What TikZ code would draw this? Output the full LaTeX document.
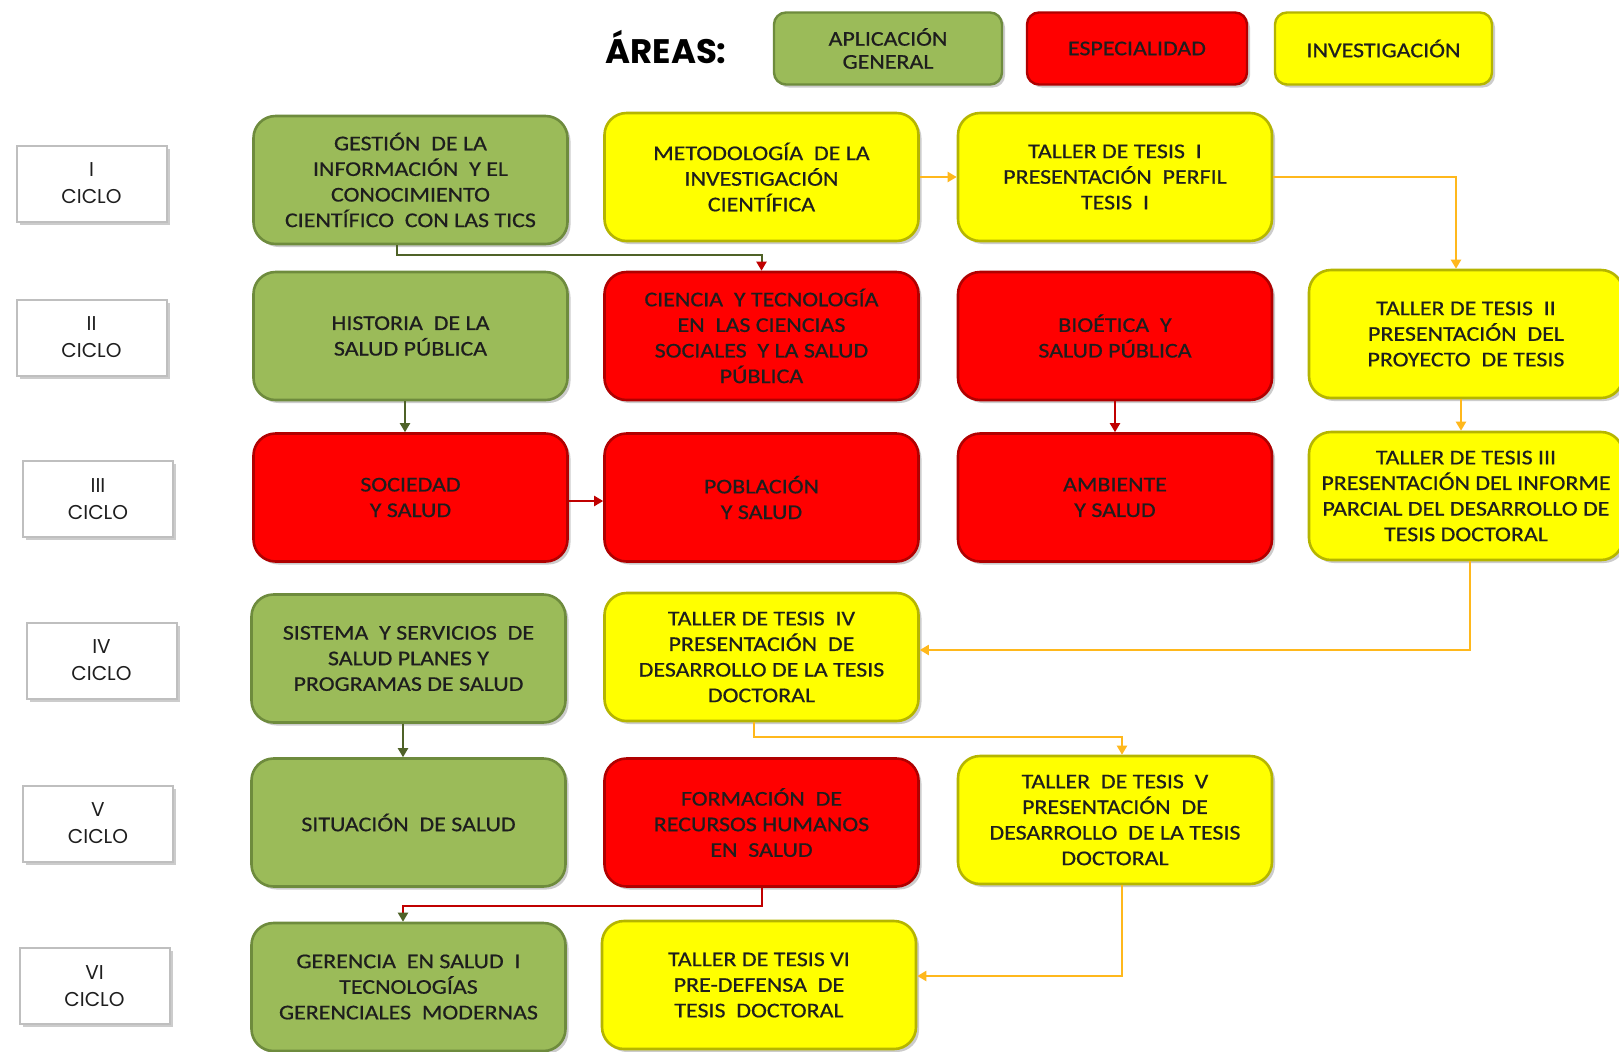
\documentclass[tikz,border=0pt]{standalone}
\usepackage{fontspec}
\setmainfont{Carlito}[FakeStretch=1.14, FakeBold=0.6]
\newfontfamily\geofont{Poppins}
\usetikzlibrary{shadows,arrows.meta}

\definecolor{agreen}{HTML}{9BBB59}
\definecolor{agreenD}{HTML}{6E8B3D}
\definecolor{ared}{HTML}{FF0000}
\definecolor{aredD}{HTML}{B00000}
\definecolor{ayel}{HTML}{FFFF00}
\definecolor{ayelD}{HTML}{B5B500}
\definecolor{lgreen}{HTML}{4F6228}
\definecolor{lred}{HTML}{C00000}
\definecolor{lorange}{HTML}{FFB81C}
\definecolor{txt}{HTML}{1E1E1E}

\tikzset{
  shad/.style={drop shadow={shadow xshift=1.5pt,shadow yshift=-1.5pt,opacity=0.4}},
  box/.style={rounded corners=11pt, line width=1.3pt, minimum width=157pt,
    minimum height=64pt, align=center, font=\fontsize{10.5}{12.8}\selectfont,
    text=txt, shad},
  gbox/.style={box, fill=agreen, draw=agreenD},
  rbox/.style={box, fill=ared, draw=aredD},
  ybox/.style={box, fill=ayel, draw=ayelD},
  ciclo/.style={fill=white, draw=gray!50, line width=1pt, minimum width=75pt,
    minimum height=38pt, align=center, font=\geofont\fontsize{10}{13.5}\selectfont,
    text=txt, shad},
  legend/.style={rounded corners=6pt, line width=1.2pt, minimum height=36pt,
    align=center, font=\fontsize{10.5}{11.5}\selectfont, text=txt, shad},
  tip/.style={-{Triangle[width=5pt,length=4.5pt]}},
  conn/.style={line width=1pt, tip},
}

\begin{document}
\begin{tikzpicture}[x=0.5pt,y=-0.5pt]
\fill[white] (0,0) rectangle (1619,1051);
\useasboundingbox (0,0) rectangle (1619,1051);

% legend
\node (areas) at (666,47) {\geofont\bfseries\fontsize{17}{20}\selectfont ÁREAS:};
\node[legend, fill=agreen, draw=agreenD, minimum width=114pt] (lg) at (888,48.5) {APLICACIÓN\\GENERAL};
\node[legend, fill=ared, draw=aredD, minimum width=110pt] (lr) at (1137,48.5) {ESPECIALIDAD};
\node[legend, fill=ayel, draw=ayelD, minimum width=108.5pt] (ly) at (1383.5,48.5) {INVESTIGACIÓN};

% ciclos
\node[ciclo] (c1) at (91.5,183.5) {I\\CICLO};
\node[ciclo] (c2) at (91.5,337.5) {II\\CICLO};
\node[ciclo] (c3) at (98,499) {III\\CICLO};
\node[ciclo] (c4) at (101.5,660.5) {IV\\CICLO};
\node[ciclo] (c5) at (98,823.5) {V\\CICLO};
\node[ciclo] (c6) at (94.5,986) {VI\\CICLO};

% row I
\node[gbox] (gestion) at (410.5,180) {GESTIÓN \ DE LA\\INFORMACIÓN \ Y EL\\CONOCIMIENTO\\CIENTÍFICO \ CON LAS TICS};
\node[ybox] (metod) at (761.5,177) {METODOLOGÍA \ DE LA\\INVESTIGACIÓN\\CIENTÍFICA};
\node[ybox] (taller1) at (1115,177) {TALLER DE TESIS \ I\\PRESENTACIÓN \ PERFIL\\TESIS \ I};

% row II
\node[gbox] (historia) at (410.5,336) {HISTORIA \ DE LA\\SALUD PÚBLICA};
\node[rbox] (ciencia) at (761.5,336) {CIENCIA \ Y TECNOLOGÍA\\EN \ LAS CIENCIAS\\SOCIALES \ Y LA SALUD\\PÚBLICA};
\node[rbox] (bioetica) at (1115,336) {BIOÉTICA \ Y\\SALUD PÚBLICA};
\node[ybox] (taller2) at (1466,334) {TALLER DE TESIS \ II\\PRESENTACIÓN \ DEL\\PROYECTO \ DE TESIS};

% row III
\node[rbox] (sociedad) at (410.5,497.5) {SOCIEDAD\\Y SALUD};
\node[rbox] (poblacion) at (761.5,497.5) {POBLACIÓN\\Y SALUD};
\node[rbox] (ambiente) at (1115,497.5) {AMBIENTE\\Y SALUD};
\node[ybox] (taller3) at (1466,496) {TALLER DE TESIS III\\PRESENTACIÓN DEL INFORME\\PARCIAL DEL DESARROLLO DE\\TESIS DOCTORAL};

% row IV
\node[gbox] (sistema) at (408.5,658.5) {SISTEMA \ Y SERVICIOS \ DE\\SALUD PLANES Y\\PROGRAMAS DE SALUD};
\node[ybox] (taller4) at (761.5,657) {TALLER DE TESIS \ IV\\PRESENTACIÓN \ DE\\DESARROLLO DE LA TESIS\\DOCTORAL};

% row V
\node[gbox] (situacion) at (408.5,822.5) {SITUACIÓN \ DE SALUD};
\node[rbox] (formacion) at (761.5,822.5) {FORMACIÓN \ DE\\RECURSOS HUMANOS\\EN \ SALUD};
\node[ybox] (taller5) at (1115,820) {TALLER \ DE TESIS \ V\\PRESENTACIÓN \ DE\\DESARROLLO \ DE LA TESIS\\DOCTORAL};

% row VI
\node[gbox] (gerencia) at (408.5,987) {GERENCIA \ EN SALUD \ I\\TECNOLOGÍAS\\GERENCIALES \ MODERNAS};
\node[ybox] (taller6) at (759,985) {TALLER DE TESIS VI\\PRE-DEFENSA \ DE\\TESIS \ DOCTORAL};

% connectors
\draw[line width=1pt, lgreen, -{Triangle[width=5pt,length=4.5pt,color=lred]}]
  ([xshift=-6.75pt]gestion.south) -- ++(0,10) -| (ciencia.north);
\draw[conn, lorange] (metod.east) -- (taller1.west);
\draw[conn, lorange] (taller1.east) -| ([xshift=-5pt]taller2.north);
\draw[conn, lgreen] ([xshift=-2.75pt]historia.south) -- ([xshift=-2.75pt]sociedad.north);
\draw[conn, lred] ([yshift=-1.75pt]sociedad.east) -- ([yshift=-1.75pt]poblacion.west);
\draw[conn, lred] (bioetica.south) -- (ambiente.north);
\draw[conn, lorange] ([xshift=-2.5pt]taller2.south) -- ([xshift=-2.5pt]taller3.north);
\draw[conn, lorange] ([xshift=2pt]taller3.south) |- ([yshift=3.5pt]taller4.east);
\draw[conn, lgreen] ([xshift=-2.75pt]sistema.south) -- ([xshift=-2.75pt]situacion.north);
\draw[conn, lorange] ([xshift=-3.75pt]taller4.south) -- ++(0,15) -| ([xshift=3.5pt]taller5.north);
\draw[line width=1pt, lred, -{Triangle[width=5pt,length=4.5pt,color=lgreen]}]
  (formacion.south) -- ++(0,18) -| ([xshift=-2.75pt]gerencia.north);
\draw[conn, lorange] ([xshift=3.5pt]taller5.south) |- ([yshift=4.5pt]taller6.east);
\end{tikzpicture}
\end{document}
